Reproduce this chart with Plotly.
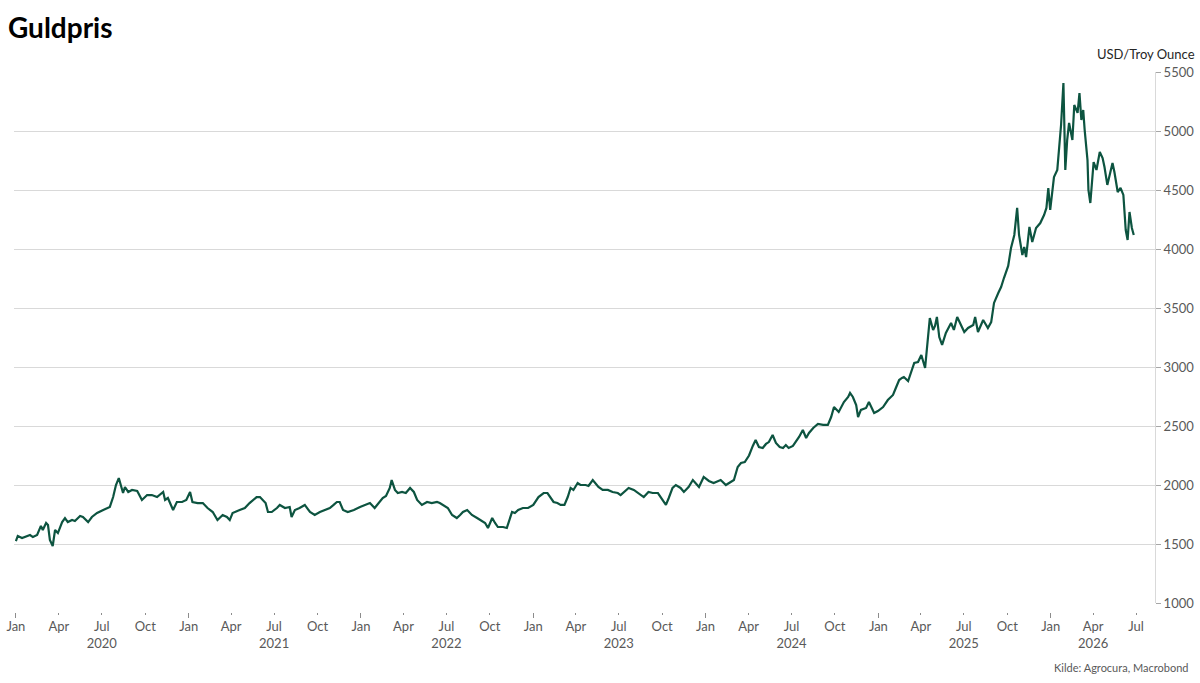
import plotly.graph_objects as go
import pandas as pd

dates = [
    "2020-01-01","2020-01-05","2020-01-14","2020-01-31","2020-02-06","2020-02-15","2020-02-23","2020-02-27",
    "2020-03-05","2020-03-09","2020-03-13","2020-03-19","2020-03-24","2020-03-30","2020-04-08","2020-04-14",
    "2020-04-20","2020-04-29","2020-05-05","2020-05-16","2020-05-22","2020-06-02","2020-06-10","2020-06-21",
    "2020-07-04","2020-07-18","2020-07-25","2020-07-31","2020-08-06","2020-08-11","2020-08-15","2020-08-19",
    "2020-08-26","2020-09-03","2020-09-14","2020-09-24","2020-10-05","2020-10-15","2020-10-26","2020-11-08",
    "2020-11-12","2020-11-18","2020-11-29","2020-12-07","2020-12-18","2020-12-27","2021-01-04","2021-01-09",
    "2021-01-20","2021-01-31","2021-02-10","2021-02-21","2021-03-03","2021-03-14","2021-03-23","2021-03-29",
    "2021-04-04","2021-04-19","2021-04-30","2021-05-10","2021-05-19","2021-05-25","2021-06-01","2021-06-07",
    "2021-06-13","2021-06-18","2021-06-26","2021-07-07","2021-07-13","2021-07-24","2021-08-03","2021-08-07",
    "2021-08-14","2021-08-24","2021-09-04","2021-09-15","2021-09-25","2021-10-06","2021-10-16","2021-10-27",
    "2021-11-04","2021-11-11","2021-11-17","2021-11-24","2021-12-04","2021-12-17","2021-12-30","2022-01-09",
    "2022-01-20","2022-01-30","2022-02-10","2022-02-16","2022-02-23","2022-03-03","2022-03-07","2022-03-14",
    "2022-03-20","2022-03-29","2022-04-06","2022-04-15","2022-04-23","2022-04-30","2022-05-10","2022-05-21",
    "2022-05-31","2022-06-11","2022-06-17","2022-06-24","2022-07-04","2022-07-13","2022-07-23","2022-07-30",
    "2022-08-05","2022-08-14","2022-08-24","2022-09-04","2022-09-10","2022-09-21","2022-09-27","2022-10-06",
    "2022-10-12","2022-10-18","2022-10-29","2022-11-06","2022-11-17","2022-11-23","2022-11-30","2022-12-10",
    "2022-12-21","2023-01-01","2023-01-12","2023-01-23","2023-01-31","2023-02-07","2023-02-13","2023-02-21",
    "2023-02-28","2023-03-08","2023-03-15","2023-03-21","2023-03-27","2023-04-05","2023-04-11","2023-04-22",
    "2023-04-28","2023-05-07","2023-05-13","2023-05-19","2023-05-28","2023-06-08","2023-06-18","2023-06-29",
    "2023-07-05","2023-07-16","2023-07-22","2023-08-02","2023-08-12","2023-08-23","2023-09-02","2023-09-11",
    "2023-09-22","2023-09-28","2023-10-09","2023-10-15","2023-10-23","2023-10-30","2023-11-09","2023-11-16",
    "2023-11-26","2023-12-05","2023-12-11","2023-12-18","2023-12-28","2024-01-08","2024-01-18","2024-01-29",
    "2024-02-02","2024-02-13","2024-02-23","2024-03-01","2024-03-09","2024-03-16","2024-03-24","2024-04-02",
    "2024-04-10","2024-04-16","2024-04-23","2024-05-01","2024-05-08","2024-05-14","2024-05-22","2024-05-29",
    "2024-06-06","2024-06-13","2024-06-19","2024-06-25","2024-07-04","2024-07-10","2024-07-17","2024-07-25",
    "2024-08-01","2024-08-07","2024-08-16","2024-08-26","2024-09-06","2024-09-16","2024-09-23","2024-09-29",
    "2024-10-05","2024-10-09","2024-10-20","2024-10-29","2024-11-02","2024-11-08","2024-11-15","2024-11-19",
    "2024-11-25","2024-12-06","2024-12-12","2024-12-18","2024-12-23","2024-12-31","2025-01-11","2025-01-21",
    "2025-02-01","2025-02-07","2025-02-14","2025-02-20","2025-02-24","2025-03-05","2025-03-11","2025-03-18",
    "2025-03-26","2025-04-02","2025-04-10","2025-04-16","2025-04-20","2025-04-27","2025-05-01","2025-05-05",
    "2025-05-10","2025-05-16","2025-05-24","2025-06-04","2025-06-10","2025-06-17","2025-06-25","2025-07-02",
    "2025-07-10","2025-07-21","2025-07-25","2025-07-31","2025-08-11","2025-08-21","2025-08-28","2025-09-03",
    "2025-09-12","2025-09-18","2025-09-24","2025-10-03","2025-10-09","2025-10-16","2025-10-22","2025-10-26",
    "2025-11-02","2025-11-06","2025-11-10","2025-11-17","2025-11-23","2025-12-01","2025-12-10","2025-12-18",
    "2025-12-23","2025-12-27","2025-12-31","2026-01-08","2026-01-15","2026-01-19","2026-01-23","2026-01-28",
    "2026-02-01","2026-02-05","2026-02-09","2026-02-16","2026-02-20","2026-02-27","2026-03-03","2026-03-07",
    "2026-03-11","2026-03-14","2026-03-20","2026-03-22","2026-03-26","2026-04-02","2026-04-08","2026-04-15",
    "2026-04-21","2026-04-25","2026-05-01","2026-05-06","2026-05-12","2026-05-16","2026-05-23","2026-05-29",
    "2026-06-04","2026-06-09","2026-06-13","2026-06-17","2026-06-22","2026-06-26",
]

prices = [
    1525,1568,1551,1576,1559,1576,1653,1619,
    1678,1661,1534,1483,1619,1593,1686,1720,
    1686,1703,1695,1737,1729,1686,1729,1763,
    1788,1814,1898,2000,2059,1983,1932,1983,
    1941,1958,1949,1873,1915,1915,1898,1941,
    1873,1890,1788,1856,1856,1873,1941,1856,
    1847,1847,1805,1771,1703,1746,1729,1703,
    1763,1788,1805,1847,1881,1898,1898,1873,
    1847,1771,1771,1805,1831,1805,1814,1729,
    1788,1805,1831,1771,1746,1771,1788,1805,
    1831,1856,1856,1788,1771,1788,1814,1831,
    1847,1805,1856,1890,1907,1975,2042,1958,
    1932,1941,1932,1975,1941,1873,1831,1856,
    1847,1856,1847,1831,1805,1746,1720,1746,
    1771,1788,1746,1720,1703,1678,1636,1720,
    1678,1644,1644,1636,1771,1763,1788,1805,
    1805,1831,1898,1932,1932,1890,1856,1847,
    1831,1831,1898,1975,1958,2017,2000,2000,
    1992,2042,2017,1983,1958,1958,1941,1932,
    1915,1958,1975,1958,1932,1898,1941,1932,
    1932,1898,1831,1890,1975,2000,1975,1941,
    1983,2042,2017,1983,2068,2034,2017,2034,
    2042,2000,2025,2042,2153,2187,2195,2250,
    2331,2381,2322,2314,2348,2364,2424,2356,
    2322,2314,2339,2314,2331,2364,2407,2466,
    2398,2441,2483,2517,2509,2509,2576,2661,
    2636,2619,2703,2746,2780,2746,2678,2576,
    2636,2653,2703,2653,2610,2627,2661,2720,
    2763,2822,2890,2907,2915,2881,2949,3034,
    3042,3102,2992,3229,3415,3314,3348,3424,
    3254,3187,3288,3373,3314,3424,3356,3297,
    3331,3356,3424,3297,3398,3331,3381,3543,
    3627,3678,3754,3856,4009,4119,4348,4119,
    3949,4017,3932,4187,4059,4178,4220,4288,
    4348,4517,4331,4610,4670,4839,5051,5407,
    4670,4924,5068,4924,5220,5153,5322,5093,
    5178,5009,4754,4500,4390,4737,4670,4822,
    4771,4695,4543,4627,4729,4653,4483,4517,
    4458,4161,4076,4314,4178,4119,
]

month_names = ["Jan", "Apr", "Jul", "Oct"]
year_labels = ["2020", "2021", "2022", "2023", "2024", "2025", "2026"]
year_label_month = {"2026": "Apr"}  # partial year label sits under Apr
y_ticks = [1000, 1500, 2000, 2500, 3000, 3500, 4000, 4500, 5000, 5500]

tickvals = pd.date_range("2020-01-01", "2026-07-01", freq="QS")
ticktext = []
for d in tickvals:
    m = month_names[(d.month - 1) // 3]
    yr = str(d.year)
    label_month = year_label_month.get(yr, "Jul")
    if yr in year_labels and m == label_month:
        ticktext.append(f"{m}<br>{yr}")
    else:
        ticktext.append(m)
jan_ticks = [d for d in tickvals if d.month == 1]

LINE = "#0d5440"
GRID = "#d9d9d9"
TXT = "#595959"
FONT = "Lato"

x_range = ["2019-12-28", "2026-08-10"]

fig = go.Figure()
fig.add_trace(go.Scatter(
    x=pd.to_datetime(dates), y=prices, mode="lines",
    line=dict(color=LINE, width=2.2), showlegend=False, hoverinfo="x+y",
))
fig.add_trace(go.Scatter(
    x=[jan_ticks[0]], y=[None], xaxis="x2", mode="markers",
    marker=dict(opacity=0), showlegend=False, hoverinfo="skip",
))

fig.update_layout(
    width=1200, height=683,
    margin=dict(l=14, r=45, t=72, b=71, autoexpand=False),
    paper_bgcolor="white", plot_bgcolor="white",
    font=dict(family=FONT, size=13, color=TXT),
    title=dict(text="<b>Guldpris</b>", x=8/1200, xref="container", xanchor="left",
               y=1 - 28/683, yref="container", yanchor="middle",
               font=dict(family=FONT, size=28, color="#000000")),
    xaxis=dict(
        type="date", range=x_range, anchor="free", position=0, automargin=False,
        showgrid=False, showline=False, zeroline=False,
        tickvals=tickvals, ticktext=ticktext,
        ticks="outside", ticklen=2, tickwidth=1, tickcolor="#8c8c8c",
        tickfont=dict(family=FONT, size=13, color=TXT),
    ),
    xaxis2=dict(
        type="date", range=x_range, anchor="free", position=0, overlaying="x",
        automargin=False,
        showgrid=False, showline=False, zeroline=False, showticklabels=False,
        tickvals=jan_ticks, ticks="outside", ticklen=5, tickwidth=1, tickcolor="#8c8c8c",
    ),
    yaxis=dict(
        range=[1000, 5500], domain=[9/540, 1], side="right", anchor="x", automargin=False,
        tickvals=y_ticks, showgrid=True, gridcolor=GRID, gridwidth=1,
        showline=True, linecolor=GRID, linewidth=1, zeroline=False,
        ticks="outside", ticklen=5, tickcolor="#a6a6a6",
        tickfont=dict(family=FONT, size=13, color=TXT),
    ),
    annotations=[
        dict(text="USD/Troy Ounce", xref="paper", yref="paper",
             x=1 + 42/1141, y=(612-54)/540, xanchor="right", yanchor="middle",
             showarrow=False, font=dict(family=FONT, size=13, color="#262626")),
        dict(text="Kilde: Agrocura, Macrobond", xref="paper", yref="paper",
             x=1 + 35/1141, y=(612-667)/540, xanchor="right", yanchor="middle",
             showarrow=False, font=dict(family=FONT, size=11, color=TXT)),
    ],
)

fig.write_html("out.html")
